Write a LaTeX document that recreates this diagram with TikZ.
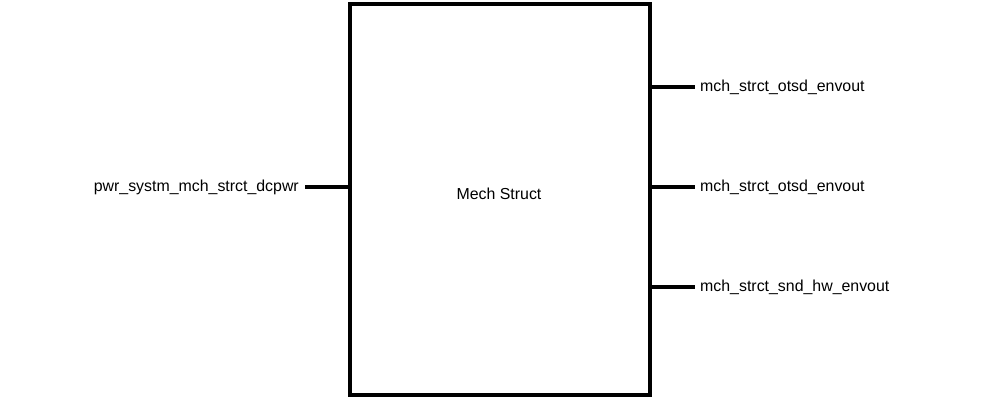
\documentclass[tikz,border=0pt]{standalone}
\usepackage{fontspec}
\setmainfont{Liberation Sans}
\begin{document}
\begin{tikzpicture}[x=1pt,y=-1pt,
  portline/.style={line width=3.4pt},
  lbl/.style={inner sep=0pt,font=\fontsize{15.9}{18}\selectfont}]
\useasboundingbox (0,0) rectangle (1000,400);
\node[draw,line width=3.4pt,minimum width=300pt,minimum height=391pt,inner sep=0pt] (blk) at (500,199.5) {};
\node[lbl] (title) at (499,194) {Mech Struct};
\coordinate (inL) at (305,187);
\coordinate (o1) at (695,87);
\coordinate (o2) at (695,187);
\coordinate (o3) at (695,287);
\draw[portline] (inL) -- (inL -| blk.west);
\draw[portline] (o1 -| blk.east) -- (o1);
\draw[portline] (o2 -| blk.east) -- (o2);
\draw[portline] (o3 -| blk.east) -- (o3);
\node[lbl,anchor=east] (inLbl) at (299,187) {pwr\_systm\_mch\_strct\_dcpwr};
\node[lbl,anchor=west] (o1Lbl) at (700,87) {mch\_strct\_otsd\_envout};
\node[lbl,anchor=west] (o2Lbl) at (700,187) {mch\_strct\_otsd\_envout};
\node[lbl,anchor=west] (o3Lbl) at (700,287) {mch\_strct\_snd\_hw\_envout};
\end{tikzpicture}
\end{document}
